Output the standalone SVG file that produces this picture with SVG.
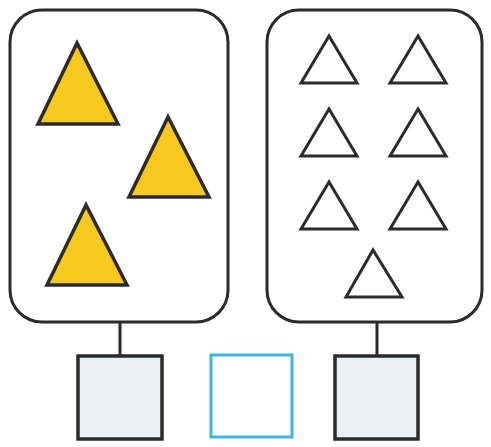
<svg xmlns="http://www.w3.org/2000/svg" width="491" height="447" viewBox="0 0 491 447">
<style>
.panel{fill:#fff;stroke:#2b2b2b;stroke-width:3}
.yt{fill:#f7c81e;stroke:#2b2b2b;stroke-width:3.5;stroke-linejoin:miter}
.wt{fill:#fff;stroke:#2b2b2b;stroke-width:3;stroke-linejoin:miter}
.box{fill:#e9f1f6;stroke:#2b2b2b;stroke-width:3.5}
.bbox{fill:#fff;stroke:#3fb2ec;stroke-width:3}
.conn{stroke:#2b2b2b;stroke-width:3;fill:none}
</style>
<rect width="491" height="447" fill="#fff"/>
<g id="left-panel">
<rect class="panel" x="10" y="10" width="218" height="312" rx="32"/>
<polygon class="yt" points="77,43 38,124 118,124"/>
<polygon class="yt" points="168,117 129,197 209,197"/>
<polygon class="yt" points="86,205 47,285 127,285"/>
</g>
<g id="right-panel">
<rect class="panel" x="267" y="10" width="215" height="312" rx="32"/>
<polygon class="wt" points="329,36 301,83 357,83"/>
<polygon class="wt" points="418,36 390,83 446,83"/>
<polygon class="wt" points="329,109 301,156 357,156"/>
<polygon class="wt" points="418,109 390,156 446,156"/>
<polygon class="wt" points="329,182 301,229 357,229"/>
<polygon class="wt" points="418,182 390,229 446,229"/>
<polygon class="wt" points="373,250 346,297 402,297"/>
</g>
<g id="connectors">
<line class="conn" x1="120" y1="322" x2="120" y2="355"/>
<line class="conn" x1="377" y1="322" x2="377" y2="355"/>
</g>
<g id="box-left"><rect class="box" x="78" y="356" width="84" height="83"/></g>
<g id="box-middle"><rect class="bbox" x="211" y="355" width="81" height="82"/></g>
<g id="box-right"><rect class="box" x="335" y="356" width="83" height="83"/></g>
</svg>
